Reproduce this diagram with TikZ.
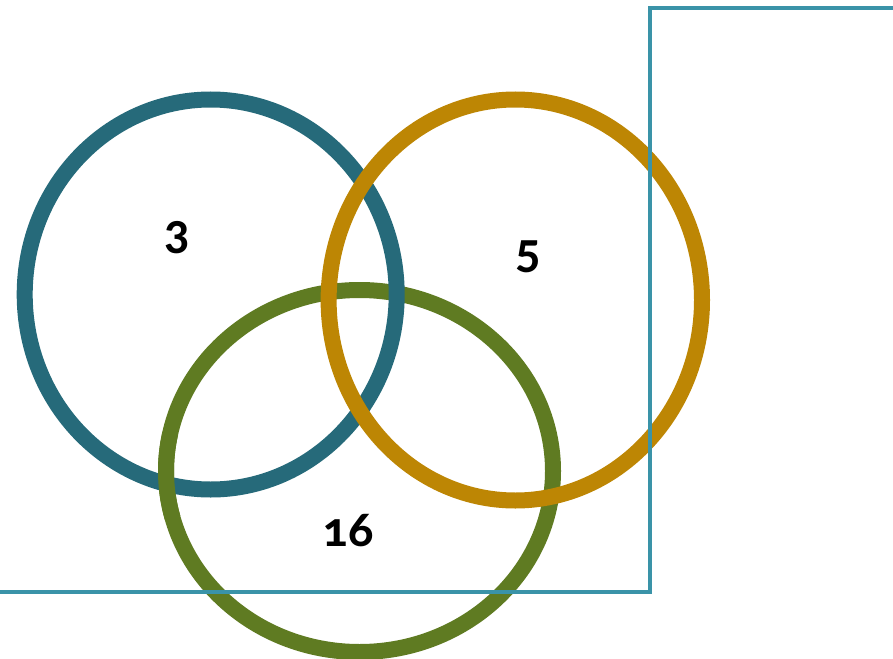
\documentclass[tikz,border=0pt]{standalone}
\usepackage{fontspec}
\setmainfont{Carlito}[Numbers=OldStyle]
\definecolor{ringblue}{RGB}{38,106,122}
\definecolor{ringgold}{RGB}{189,134,4}
\definecolor{ringgreen}{RGB}{95,123,34}
\definecolor{frameline}{RGB}{58,147,168}
\begin{document}
\begin{tikzpicture}[x=1pt,y=-1pt,
  ring/.style={line width=16pt},
  lab/.style={font=\bfseries\fontsize{50}{60}\selectfont, inner sep=0pt},
  frame/.style={draw=frameline, line width=4pt}]
\useasboundingbox (0,0) rectangle (893,658);
\draw[ring, ringgreen] (359.5,471) ellipse [x radius=193.5, y radius=181];
\draw[ring, ringblue] (210.7,294.5) ellipse [x radius=186, y radius=195];
\draw[ring, ringgold] (515.3,300) ellipse [x radius=186.7, y radius=200.5];
% green passes over blue at the lower left crossing
\draw[ring, ringgreen] (359.5,471) ++(165:193.5 and 181) arc [start angle=165, end angle=192, x radius=193.5, y radius=181];
\coordinate (fa) at (-5,592);
\coordinate (fb) at (650,592);
\coordinate (fc) at (650,8);
\coordinate (fd) at (900,8);
\draw[frame] (fa) -- (fb) -- (fc) -- (fd);
\node[lab] (n3) at (177,238) {3};
\node[lab] (n5) at (528,257) {5};
\node[lab] (n16) at (348,531) {16};
\end{tikzpicture}
\end{document}
